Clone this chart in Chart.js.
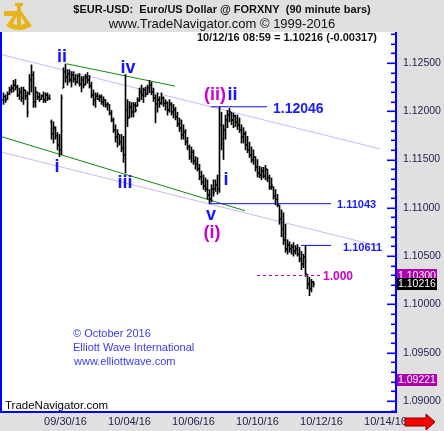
<!DOCTYPE html>
<html>
<head>
<meta charset="utf-8">
<script src="https://cdn.jsdelivr.net/npm/chart.js@4.4.0/dist/chart.umd.min.js"></script>
<style>
  html, body { margin: 0; padding: 0; background: #e0e0e0; }
  canvas { display: block; }
</style>
</head>
<body>
<canvas id="chart" width="444" height="431"></canvas>
<script>
// 90 minute bars, EUR-USD, bar 0 .. 155 (last = 10/12/16 08:59)
const barOpen = [
  1.1212, 1.1215, 1.1212, 1.1218, 1.1222, 1.1224, 1.1227, 1.1225, 1.1217, 1.1220,
  1.1214, 1.1222, 1.1216, 1.1219, 1.1232, 1.1238, 1.1210, 1.1220, 1.1215, 1.1213,
  1.1216, 1.1212, 1.1217, 1.1214, 1.1189, 1.1176, 1.1183, 1.1174, 1.1165, 1.1160,
  1.1224, 1.1241, 1.1235, 1.1239, 1.1232, 1.1237, 1.1233, 1.1230, 1.1236, 1.1228,
  1.1232, 1.1227, 1.1235, 1.1232, 1.1226, 1.1217, 1.1212, 1.1216, 1.1213, 1.1215,
  1.1210, 1.1212, 1.1206, 1.1207, 1.1198, 1.1191, 1.1181, 1.1173, 1.1176, 1.1168,
  1.1162, 1.1155, 1.1201, 1.1193, 1.1204, 1.1199, 1.1206, 1.1205, 1.1212, 1.1220,
  1.1217, 1.1222, 1.1218, 1.1224, 1.1227, 1.1220, 1.1214, 1.1207, 1.1212, 1.1209,
  1.1214, 1.1208, 1.1209, 1.1201, 1.1207, 1.1199, 1.1201, 1.1194, 1.1187, 1.1183,
  1.1175, 1.1179, 1.1168, 1.1163, 1.1153, 1.1158, 1.1148, 1.1145, 1.1140, 1.1132,
  1.1127, 1.1123, 1.1119, 1.1113, 1.1109, 1.1119, 1.1119, 1.1124, 1.1119, 1.1186,
  1.1171, 1.1181, 1.1191, 1.1196, 1.1199, 1.1191, 1.1195, 1.1189, 1.1186, 1.1181,
  1.1173, 1.1176, 1.1165, 1.1160, 1.1155, 1.1150, 1.1153, 1.1142, 1.1136, 1.1134,
  1.1138, 1.1133, 1.1140, 1.1131, 1.1122, 1.1122, 1.1112, 1.1109, 1.1103, 1.1088,
  1.1078, 1.1067, 1.1057, 1.1062, 1.1057, 1.1059, 1.1055, 1.1057, 1.1052, 1.1047,
  1.1042, 1.1049, 1.1031, 1.1021, 1.1016, 1.1023
];
const barHigh = [
  1.1219, 1.1217, 1.1220, 1.1225, 1.1227, 1.1232, 1.1233, 1.1227, 1.1224, 1.1225,
  1.1225, 1.1222, 1.1220, 1.1238, 1.1248, 1.1241, 1.1225, 1.1220, 1.1219, 1.1217,
  1.1220, 1.1219, 1.1219, 1.1217, 1.1191, 1.1189, 1.1184, 1.1178, 1.1176, 1.1217,
  1.1245, 1.1249, 1.1243, 1.1243, 1.1241, 1.1241, 1.1238, 1.1238, 1.1239, 1.1236,
  1.1236, 1.1238, 1.1240, 1.1237, 1.1230, 1.1222, 1.1219, 1.1219, 1.1217, 1.1217,
  1.1215, 1.1212, 1.1209, 1.1207, 1.1201, 1.1193, 1.1186, 1.1181, 1.1176, 1.1176,
  1.1174, 1.1238, 1.1212, 1.1210, 1.1209, 1.1209, 1.1209, 1.1214, 1.1224, 1.1227,
  1.1224, 1.1225, 1.1227, 1.1232, 1.1230, 1.1224, 1.1217, 1.1219, 1.1215, 1.1219,
  1.1215, 1.1212, 1.1210, 1.1212, 1.1209, 1.1207, 1.1204, 1.1199, 1.1193, 1.1191,
  1.1186, 1.1181, 1.1173, 1.1165, 1.1163, 1.1160, 1.1153, 1.1152, 1.1145, 1.1138,
  1.1134, 1.1131, 1.1129, 1.1119, 1.1124, 1.1129, 1.1129, 1.1134, 1.12046, 1.1199,
  1.1186, 1.1196, 1.1201, 1.1203, 1.1199, 1.1198, 1.1196, 1.1196, 1.1193, 1.1186,
  1.1183, 1.1179, 1.1174, 1.1168, 1.1163, 1.1160, 1.1153, 1.1150, 1.1143, 1.1142,
  1.1142, 1.1144, 1.1140, 1.1134, 1.1131, 1.1122, 1.1119, 1.1114, 1.1103, 1.1098,
  1.1095, 1.1083, 1.1067, 1.1065, 1.1062, 1.1064, 1.1061, 1.1062, 1.1059, 1.1055,
  1.1052, 1.10611, 1.1031, 1.1028, 1.1026, 1.1024
];
const barLow = [
  1.1207, 1.1209, 1.1212, 1.1217, 1.1219, 1.1220, 1.1222, 1.1215, 1.1212, 1.1210,
  1.1207, 1.1212, 1.1194, 1.1217, 1.1220, 1.1204, 1.1204, 1.1212, 1.1210, 1.1212,
  1.1209, 1.1209, 1.1211, 1.1212, 1.1171, 1.1167, 1.1171, 1.1160, 1.1153, 1.1155,
  1.1224, 1.1230, 1.1227, 1.1230, 1.1225, 1.1230, 1.1227, 1.1229, 1.1226, 1.1220,
  1.1224, 1.1227, 1.1229, 1.1224, 1.1214, 1.1206, 1.1204, 1.1212, 1.1210, 1.1207,
  1.1205, 1.1204, 1.1201, 1.1196, 1.1189, 1.1178, 1.1168, 1.1163, 1.1165, 1.1158,
  1.1147, 1.1136, 1.1184, 1.1193, 1.1194, 1.1194, 1.1199, 1.1205, 1.1210, 1.1212,
  1.1209, 1.1215, 1.1217, 1.1219, 1.1217, 1.1210, 1.1188, 1.1199, 1.1204, 1.1207,
  1.1205, 1.1201, 1.1196, 1.1199, 1.1196, 1.1193, 1.1191, 1.1184, 1.1179, 1.1171,
  1.1171, 1.1165, 1.1160, 1.1150, 1.1147, 1.1145, 1.1140, 1.1138, 1.1129, 1.1124,
  1.1119, 1.1117, 1.1109, 1.11043, 1.1106, 1.1112, 1.1117, 1.1114, 1.1116, 1.1160,
  1.1150, 1.1171, 1.1183, 1.1189, 1.1186, 1.1183, 1.1184, 1.1181, 1.1178, 1.1167,
  1.1167, 1.1160, 1.1157, 1.1152, 1.1147, 1.1145, 1.1138, 1.1132, 1.1131, 1.1129,
  1.1131, 1.1129, 1.1127, 1.1119, 1.1119, 1.1109, 1.1103, 1.1101, 1.1083, 1.1070,
  1.1062, 1.1054, 1.1052, 1.1054, 1.1052, 1.1050, 1.1052, 1.1050, 1.1044, 1.1036,
  1.1038, 1.1029, 1.1016, 1.1009, 1.1013, 1.1018
];
const barClose = [
  1.1215, 1.1212, 1.1218, 1.1222, 1.1224, 1.1227, 1.1225, 1.1217, 1.1220, 1.1214,
  1.1222, 1.1216, 1.1199, 1.1232, 1.1238, 1.1210, 1.1220, 1.1215, 1.1213, 1.1216,
  1.1212, 1.1217, 1.1214, 1.1213, 1.1176, 1.1183, 1.1174, 1.1165, 1.1160, 1.1214,
  1.1241, 1.1235, 1.1239, 1.1232, 1.1237, 1.1233, 1.1230, 1.1236, 1.1228, 1.1232,
  1.1227, 1.1235, 1.1232, 1.1226, 1.1217, 1.1212, 1.1216, 1.1213, 1.1215, 1.1210,
  1.1212, 1.1206, 1.1207, 1.1198, 1.1191, 1.1181, 1.1173, 1.1176, 1.1168, 1.1162,
  1.1155, 1.1201, 1.1193, 1.1204, 1.1199, 1.1206, 1.1201, 1.1212, 1.1220, 1.1217,
  1.1222, 1.1218, 1.1224, 1.1227, 1.1220, 1.1214, 1.1207, 1.1212, 1.1209, 1.1214,
  1.1208, 1.1209, 1.1201, 1.1207, 1.1199, 1.1201, 1.1194, 1.1187, 1.1183, 1.1175,
  1.1179, 1.1168, 1.1163, 1.1153, 1.1158, 1.1148, 1.1145, 1.1140, 1.1132, 1.1127,
  1.1123, 1.1119, 1.1113, 1.1109, 1.1119, 1.1115, 1.1124, 1.1119, 1.1186, 1.1171,
  1.1181, 1.1191, 1.1196, 1.1199, 1.1191, 1.1195, 1.1189, 1.1186, 1.1181, 1.1173,
  1.1176, 1.1165, 1.1160, 1.1155, 1.1150, 1.1153, 1.1142, 1.1136, 1.1134, 1.1138,
  1.1133, 1.1140, 1.1131, 1.1122, 1.1124, 1.1112, 1.1109, 1.1103, 1.1088, 1.1078,
  1.1067, 1.1057, 1.1062, 1.1057, 1.1059, 1.1055, 1.1057, 1.1052, 1.1047, 1.1042,
  1.1049, 1.1031, 1.1021, 1.1016, 1.1023, 1.10216
];

const dateTickBars = [31, 63, 95, 127, 159, 191];
const dateTickLabels = ['09/30/16', '10/04/16', '10/06/16', '10/10/16', '10/12/16', '10/14/16'];
const priceTicks = [1.09, 1.095, 1.10, 1.105, 1.11, 1.115, 1.12, 1.125];

// channel lines  [barFrom, priceFrom, barTo, priceTo]
const upperChannel = [-0.75, 1.12585, 188.25, 1.1161];
const lowerChannel = [-0.75, 1.11575, 188.25, 1.1060];
const upperGreen = [31.75, 1.1249, 85.75, 1.1226];
const lowerGreen = [-0.75, 1.11735, 120.75, 1.1097];

// levels  [price, barFrom, barTo]
const levelLines = [
  [1.12046, 103.75, 131.75],
  [1.11043, 102.75, 163.75],
  [1.10611, 148.75, 163.75]
];
const targetLine = [1.10300, 126.75, 158.25];

const levelLabels = [
  { text: '1.12046', bar: 134.75, price: 1.12030, size: 14, color: '#1a1aff' },
  { text: '1.11043', bar: 166.75, price: 1.11043, size: 11, color: '#1a1aff' },
  { text: '1.10611', bar: 169.75, price: 1.10600, size: 11, color: '#1a1aff' },
  { text: '1.000', bar: 159.75, price: 1.10300, size: 12, color: '#cc00cc' }
];

const waveLabels = [
  { text: 'ii', bar: 29.25, price: 1.1256, color: '#1414ff' },
  { text: 'i', bar: 26.75, price: 1.1142, color: '#1414ff' },
  { text: 'iv', bar: 62.25, price: 1.1245, color: '#1414ff' },
  { text: 'iii', bar: 60.75, price: 1.1126, color: '#1414ff' },
  { text: '(ii)', bar: 105.75, price: 1.1217, color: '#cc00cc' },
  { text: 'ii', bar: 114.5, price: 1.1217, color: '#1414ff' },
  { text: 'i', bar: 111.25, price: 1.1129, color: '#1414ff' },
  { text: 'v', bar: 103.75, price: 1.1093, color: '#1414ff' },
  { text: '(i)', bar: 104.25, price: 1.1074, color: '#cc00cc' }
];

const priceFlags = [
  { value: 1.10300, bg: '#b000b0' },
  { value: 1.10216, bg: '#000000' },
  { value: 1.09221, bg: '#b000b0' }
];

function seg(a, color, dash) {
  return {
    type: 'line',
    data: [{ x: a[0], y: a[1] }, { x: a[2], y: a[3] }],
    borderColor: color, borderWidth: 1, borderDash: dash || [],
    pointRadius: 0, fill: false, order: 2
  };
}

const datasets = [
  {
    type: 'bar',
    data: barHigh.map((h, i) => ({ x: i, y: [barLow[i], h] })),
    backgroundColor: '#000',
    borderWidth: 0,
    barThickness: 1,
    grouped: false,
    order: 1
  },
  seg(upperChannel, '#c8b8f4'),
  seg(lowerChannel, '#c8b8f4'),
  seg(upperGreen, '#118811'),
  seg(lowerGreen, '#118811')
];
levelLines.forEach(l => {
  const d = seg([l[1], l[0], l[2], l[0]], '#1010d8');
  d.order = 0;
  datasets.push(d);
});
{
  const d = seg([targetLine[1], targetLine[0], targetLine[2], targetLine[0]], '#b000b0', [3, 3]);
  d.order = 0;
  datasets.push(d);
}

const frame = {
  id: 'frame',
  beforeDraw(chart) {
    const { ctx, chartArea: a } = chart;
    ctx.save();
    ctx.fillStyle = '#e0e0e0';
    ctx.fillRect(0, 0, chart.width, chart.height);
    ctx.fillStyle = '#ffffff';
    ctx.fillRect(0, a.top, a.right, a.bottom - a.top);

    // logo
    ctx.fillStyle = '#e8b41c';
    ctx.beginPath();
    ctx.moveTo(19, 8);
    ctx.arc(19, 8, 22, Math.PI * 0.3, Math.PI * 0.7);
    ctx.closePath();
    ctx.fill();
    ctx.fillStyle = '#e0e0e0';
    ctx.beginPath();
    ctx.moveTo(19, 12);
    ctx.arc(19, 12, 13, Math.PI * 0.35, Math.PI * 0.65);
    ctx.closePath();
    ctx.fill();
    ctx.fillStyle = '#e8b41c';
    ctx.fillRect(4, 11, 14, 5);
    ctx.fillRect(17, 4, 4, 22);
    ctx.fillRect(15, 3, 8, 3);

    // header
    ctx.fillStyle = '#111';
    ctx.textAlign = 'center';
    ctx.textBaseline = 'middle';
    ctx.font = 'bold 11px "Liberation Sans", Arial, sans-serif';
    ctx.fillText('$EUR-USD:  Euro/US Dollar @ FORXNY  (90 minute bars)', 222, 10);
    ctx.font = '13px "Liberation Sans", Arial, sans-serif';
    ctx.fillText('www.TradeNavigator.com \u00a9 1999-2016', 222, 24);
    ctx.restore();
  },
  afterDatasetsDraw(chart) {
    const { ctx, scales: { x, y } } = chart;
    ctx.save();
    ctx.fillStyle = '#000';
    barOpen.forEach((o, i) => {
      const px = Math.round(x.getPixelForValue(i) - 0.5);
      ctx.fillRect(px - 1, Math.round(y.getPixelForValue(o)) - 0.5, 1, 1);
      ctx.fillRect(px + 1, Math.round(y.getPixelForValue(barClose[i])) - 0.5, 1, 1);
    });
    ctx.restore();
  },
  afterDraw(chart) {
    const { ctx, chartArea: a, scales: { x, y } } = chart;
    ctx.save();
    const font = 'px "Liberation Sans", Arial, sans-serif';

    // wave labels
    ctx.textAlign = 'center';
    ctx.textBaseline = 'middle';
    ctx.font = 'bold 18' + font;
    waveLabels.forEach(w => {
      ctx.fillStyle = w.color;
      ctx.fillText(w.text, x.getPixelForValue(w.bar), y.getPixelForValue(w.price));
    });

    // level labels
    ctx.textAlign = 'left';
    levelLabels.forEach(l => {
      ctx.font = 'bold ' + l.size + font;
      ctx.fillStyle = l.color;
      ctx.fillText(l.text, x.getPixelForValue(l.bar), y.getPixelForValue(l.price) + 1);
    });

    // last bar caption
    ctx.fillStyle = '#111';
    ctx.font = 'bold 11' + font;
    ctx.textAlign = 'right';
    ctx.fillText('10/12/16 08:59 = 1.10216 (-0.00317)', 377, 38);

    // copyright
    ctx.textAlign = 'left';
    ctx.fillStyle = '#3a3af4';
    ctx.font = '11' + font;
    ctx.fillText('\u00a9 October 2016', 73, 334);
    ctx.fillText('Elliott Wave International', 73, 348);
    ctx.fillText('www.elliottwave.com', 74, 362);
    ctx.fillStyle = '#000';
    ctx.font = '11.5' + font;
    ctx.fillText('TradeNavigator.com', 5, 406);

    // frame lines
    ctx.fillStyle = '#0000ff';
    ctx.fillRect(0, a.top, 2, a.bottom - a.top + 2);
    ctx.fillRect(a.right - 1, a.top, 2, a.bottom - a.top + 2);
    ctx.fillRect(0, a.bottom, a.right + 1, 2);

    // inside ticks on price axis
    for (let v = 1089; v <= 1128; v++) {
      const py = Math.round(y.getPixelForValue(v / 1000)) + 0.5;
      const len = v % 5 === 0 ? 9 : 5;
      ctx.fillRect(a.right - len, py - 1, len, 1.6);
    }

    // price flags
    ctx.font = '10.5' + font;
    priceFlags.forEach(f => {
      const py = y.getPixelForValue(f.value);
      ctx.fillStyle = f.bg;
      ctx.fillRect(a.right + 1, Math.round(py) - 6, 40, 12);
      ctx.fillStyle = '#ffffff';
      ctx.fillText(f.value.toFixed(5), a.right + 2, py + 0.5);
    });

    // red arrow
    ctx.fillStyle = '#ff0000';
    ctx.strokeStyle = '#800000';
    ctx.beginPath();
    ctx.moveTo(405, 418);
    ctx.lineTo(426, 418);
    ctx.lineTo(426, 414);
    ctx.lineTo(435, 422);
    ctx.lineTo(426, 430);
    ctx.lineTo(426, 426);
    ctx.lineTo(405, 426);
    ctx.closePath();
    ctx.fill();
    ctx.lineWidth = 1;
    ctx.stroke();
    ctx.restore();
  }
};

new Chart(document.getElementById('chart'), {
  type: 'bar',
  data: { datasets },
  options: {
    responsive: false,
    animation: false,
    layout: { padding: { left: 2, top: 32, right: 0, bottom: 0 } },
    plugins: { legend: { display: false }, tooltip: { enabled: false } },
    scales: {
      x: {
        type: 'linear',
        offset: false,
        min: -0.75,
        max: 196.25,
        grid: { display: false, drawTicks: false },
        border: { display: false },
        afterFit(s) { s.height = 20; },
        afterBuildTicks(s) { s.ticks = dateTickBars.map(v => ({ value: v })); },
        ticks: {
          autoSkip: false,
          maxRotation: 0,
          padding: 4,
          color: '#1e1e50',
          font: { family: '"Liberation Sans", Arial, sans-serif', size: 11 },
          callback: v => dateTickLabels[dateTickBars.indexOf(v)] || ''
        }
      },
      y: {
        position: 'right',
        min: 1.08897,
        max: 1.1282,
        grid: { display: false, drawTicks: false },
        border: { display: false },
        afterFit(s) { s.width = 48; },
        afterBuildTicks(s) { s.ticks = priceTicks.map(v => ({ value: v })); },
        ticks: {
          padding: 7,
          color: '#1e1e50',
          font: { family: '"Liberation Sans", Arial, sans-serif', size: 10.5 },
          callback: v => v.toFixed(5)
        }
      }
    }
  },
  plugins: [frame]
});
</script>
</body>
</html>
